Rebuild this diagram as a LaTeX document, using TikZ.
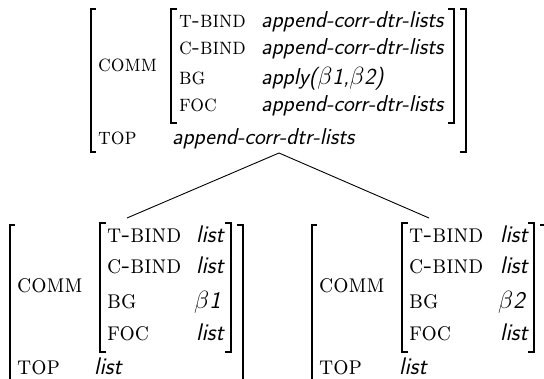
\documentclass[tikz,border=0pt]{standalone}
\usepackage{fontspec}
\newcommand\tallab[1]{\scalebox{1}[1.1]{#1}}
\begin{document}
\begin{tikzpicture}[x=1pt,y=-1pt,
  lbl/.style={anchor=base west, inner sep=0pt, font=\fontsize{21.6}{24}\selectfont\scshape},
  wide/.style={font=\fontsize{21.6}{24}\selectfont\scshape\addfontfeature{LetterSpace=10}},
  val/.style={anchor=base west, inner sep=0pt, font=\fontsize{23}{26}\selectfont\sffamily\itshape},
  lblB/.style={anchor=base west, inner sep=0pt, font=\fontsize{24}{27}\selectfont\scshape},
  wideB/.style={font=\fontsize{24}{27}\selectfont\scshape\addfontfeature{LetterSpace=10}},
  valB/.style={anchor=base west, inner sep=0pt, font=\fontsize{24}{27}\selectfont\sffamily\itshape},
  brk/.style={line width=1.6pt},
  edge/.style={line width=0.9pt}]
\clip (0,0) rectangle (544,379);
% ---------- top tree ----------
\draw[brk] (96,9) -- (91,9) -- (91,152) -- (96,152);
\draw[brk] (177,9) -- (171,9) -- (171,123) -- (177,123);
\draw[brk] (448,9) -- (454,9) -- (454,123) -- (448,123);
\draw[brk] (460,9) -- (466,9) -- (466,152) -- (460,152);
\node[lbl] (tcomm) at (98,72) {\tallab{comm}};
\node[lbl,wide] (ttb) at (179,28) {\tallab{t-bind}};
\node[lbl,wide] (tcb) at (179,55) {\tallab{c-bind}};
\node[lbl] (tbg) at (179,85) {\tallab{bg}};
\node[lbl] (tfoc) at (179,112) {\tallab{foc}};
\node[lbl] (ttop) at (98,145) {\tallab{top}};
\node[val] (vtb) at (261,28) {append-corr-dtr-lists};
\node[val] (vcb) at (261,55) {append-corr-dtr-lists};
\node[val] (vbg) at (261,85) {apply($\beta$1,$\beta$2)};
\node[val] (vfoc) at (261,112) {append-corr-dtr-lists};
\node[val] (vtop) at (172,145) {append-corr-dtr-lists};
% ---------- bottom left ----------
\draw[brk] (15,225) -- (10,225) -- (10,395);
\draw[brk] (106,223) -- (100,223) -- (100,352) -- (106,352);
\draw[brk] (225,223) -- (231,223) -- (231,352) -- (225,352);
\draw[brk] (237,225) -- (243,225) -- (243,395);
\node[lblB] (lcomm) at (17,293) {\tallab{comm}};
\node[lblB,wideB] (ltb) at (107,243) {\tallab{t-bind}};
\node[lblB,wideB] (lcb) at (107,274) {\tallab{c-bind}};
\node[lblB] (lbg) at (107,309) {\tallab{bg}};
\node[lblB] (lfoc) at (107,341) {\tallab{foc}};
\node[lblB] (ltop) at (17,375) {\tallab{top}};
\node[valB] (lvtb) at (196,243) {list};
\node[valB] (lvcb) at (196,274) {list};
\node[valB] (lvbg) at (194,309) {$\beta$1};
\node[valB] (lvfoc) at (196,341) {list};
\node[valB] (lvtop) at (94,375) {list};
% ---------- bottom right ----------
\draw[brk] (317,225) -- (312,225) -- (312,395);
\draw[brk] (408,223) -- (402,223) -- (402,352) -- (408,352);
\draw[brk] (528,223) -- (534,223) -- (534,352) -- (528,352);
\draw[brk] (540,225) -- (546,225) -- (546,395);
\node[lblB] (rcomm) at (319,293) {\tallab{comm}};
\node[lblB,wideB] (rtb) at (409,243) {\tallab{t-bind}};
\node[lblB,wideB] (rcb) at (409,274) {\tallab{c-bind}};
\node[lblB] (rbg) at (409,309) {\tallab{bg}};
\node[lblB] (rfoc) at (409,341) {\tallab{foc}};
\node[lblB] (rtop) at (319,375) {\tallab{top}};
\node[valB] (rvtb) at (500,243) {list};
\node[valB] (rvcb) at (500,274) {list};
\node[valB] (rvbg) at (498,309) {$\beta$2};
\node[valB] (rvfoc) at (500,341) {list};
\node[valB] (rvtop) at (399,375) {list};
% ---------- connectors ----------
\coordinate (apex) at (279,153);
\coordinate (lend) at (127,218);
\coordinate (rend) at (429,218);
\draw[edge] (lend) -- (apex) -- (rend);
\end{tikzpicture}
\end{document}
